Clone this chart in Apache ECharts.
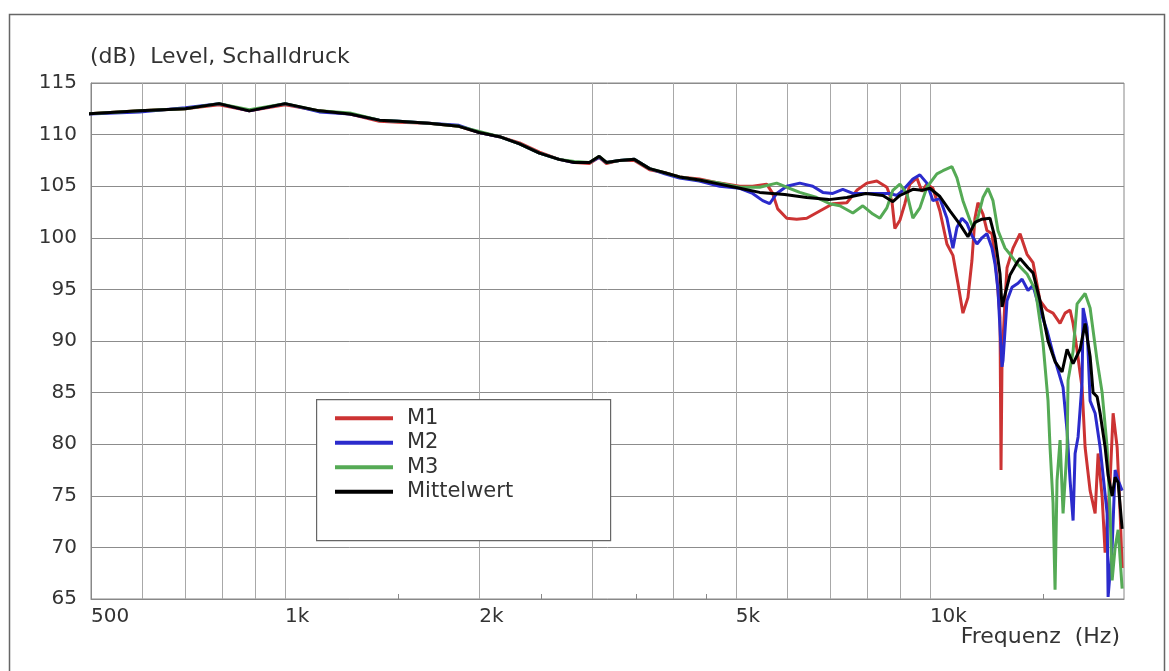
<!DOCTYPE html>
<html><head><meta charset="utf-8">
<script src="https://cdn.jsdelivr.net/npm/echarts@6/dist/echarts.min.js"></script>
<style>html,body{margin:0;padding:0;background:#fff}#c{width:1169px;height:671px}</style>
</head><body><div id="c"></div>
<script>
// ---- tick labels / grid positions (Hz) ----
const labelFreqs = [500, 1000, 2000, 5000, 10000];
const labelNames = ['500', '1k', '2k', '5k', '10k'];
const gridFreqs = [600, 700, 800, 900, 1000, 2000, 3000, 4000, 5000, 6000, 7000, 8000, 9000, 10000];
const minorFreqs = [1500, 2500, 3500, 4500, 15000];
const seriesNames = ['M1', 'M2', 'M3', 'Mittelwert'];

// ---- low-frequency part (shared frequency points) ----
const lowFreq = [493,595,700,790,880,1000,1130,1260,1400,1500,1670,1860,2000,2150,2310,2480,2660,2810,2965,3070,3150,3300,3480,3675,3880,4090,4390,4720];
const m1Low = [112.0,112.3,112.5,112.9,112.3,112.9,112.3,112.0,111.3,111.2,111.1,110.8,110.2,109.8,109.2,108.3,107.6,107.3,107.2,107.8,107.2,107.5,107.5,106.6,106.3,105.9,105.7,105.3];
const m2Low = [112.0,112.2,112.6,113.0,112.3,113.0,112.2,112.0,111.4,111.3,111.1,110.9,110.2,109.8,109.1,108.2,107.6,107.3,107.3,107.8,107.3,107.5,107.6,106.7,106.2,105.8,105.5,105.0];
const m3Low = [112.0,112.3,112.5,113.0,112.4,113.0,112.3,112.1,111.4,111.3,111.1,110.8,110.3,109.8,109.1,108.2,107.6,107.4,107.3,107.9,107.3,107.5,107.6,106.7,106.3,105.9,105.6,105.3];
const meanLow = [112.0,112.3,112.5,113.0,112.3,113.0,112.3,112.0,111.4,111.3,111.1,110.8,110.2,109.8,109.1,108.2,107.6,107.3,107.3,107.9,107.3,107.5,107.6,106.7,106.3,105.9,105.6,105.2];

// ---- high-frequency part ----
const m1HfFreq = [5070,5310,5583,5704,5807,5997,6215,6442,6749,7070,7433,7703,7983,8274,8576,8730,8824,8984,9145,9310,9545,9718,9893,10108,10364,10627,10857,11053,11252,11455,11620,11745,11872,12087,12260,12482,12708,12845,12891,12937,13077,13171,13456,13798,14145,14452,14818,15194,15523,15917,16204,16497,16675,16915,17097,17220,17406,17720,18040,18234,18497,18696,19033,19238,19516,19727,19868];
const m1HfLevel = [105.0,105.0,105.2,104.3,102.8,101.9,101.8,101.9,102.6,103.3,103.4,104.6,105.3,105.5,104.9,103.6,100.9,101.7,103.3,105.2,105.8,104.5,105.2,104.8,102.6,99.4,98.3,95.6,92.7,94.2,97.8,101.9,103.4,102.3,100.7,100.4,96.1,92.3,77.5,88.0,94.0,97.1,99.0,100.4,98.4,97.6,93.9,93.0,92.7,91.7,92.7,93.0,91.7,89.1,86.9,85.5,79.7,75.5,73.3,79.1,74.9,69.5,76.5,83.0,79.7,73.3,68.0];

const m2HfFreq = [5070,5310,5504,5643,5786,5997,6283,6582,6822,7070,7327,7594,7983,8364,8668,8887,9080,9410,9649,9893,10108,10364,10627,10857,11013,11212,11414,11620,11830,12043,12260,12482,12617,12753,12937,12983,13171,13408,13699,13897,14196,14452,14713,15194,15523,15917,16089,16321,16497,16675,16795,16975,17220,17282,17531,17720,18040,18365,18830,18897,19170,19376,19586,19868];
const m2HfLevel = [104.8,104.3,103.6,103.3,104.3,105.0,105.3,105.0,104.4,104.3,104.7,104.3,104.3,104.3,104.3,104.1,104.6,105.7,106.1,105.3,103.6,103.8,101.9,99.0,101.0,101.9,101.4,100.2,99.4,100.0,100.4,99.0,97.5,94.9,87.5,88.1,93.9,95.2,95.6,96.0,94.9,95.4,93.6,91.0,88.8,86.5,85.5,81.3,76.5,72.6,79.1,80.7,86.0,93.2,91.3,84.2,83.0,79.7,73.3,65.2,70.0,77.5,76.5,75.5];

const m3HfFreq = [5070,5445,5786,5997,6283,6677,6995,7249,7594,7870,8157,8364,8576,8761,8984,9211,9410,9649,9893,10253,10476,10818,11013,11252,11537,11662,11872,12087,12304,12527,12753,13077,13312,13650,14145,14556,14660,14978,15248,15358,15523,15635,15747,15917,16089,16321,16379,16675,16915,17406,17720,18169,18497,18830,19033,19170,19376,19586,19868];
const m3HfLevel = [104.9,104.9,105.3,104.9,104.4,103.9,103.3,103.1,102.4,103.1,102.3,101.9,102.9,104.6,105.2,104.3,101.9,102.9,104.9,106.2,106.5,106.9,105.8,103.6,101.7,101.0,102.0,103.9,104.8,103.6,100.7,99.0,98.4,97.5,96.5,95.0,93.9,89.8,84.2,79.7,74.3,65.9,76.5,80.4,73.3,79.7,86.2,89.0,93.6,94.6,93.2,88.1,85.0,79.7,73.3,66.8,70.0,71.7,66.0];

const meanHfFreq = [5070,5445,5955,6442,6970,7433,7955,8454,8761,8984,9410,9718,10000,10364,10741,11132,11455,11745,12043,12393,12617,12845,12937,13077,13312,13650,13798,14196,14452,14818,15248,15635,16031,16321,16675,17097,17406,17720,17911,18169,18365,18696,18897,19170,19376,19586,19868];
const meanHfLevel = [104.8,104.4,104.2,103.9,103.7,103.9,104.3,104.1,103.5,104.1,104.7,104.6,104.8,104.0,102.6,101.3,100.1,101.5,101.8,101.9,100.0,96.5,93.3,94.5,96.4,97.6,98.0,97.1,96.6,93.9,90.0,88.0,87.0,89.2,87.8,89.2,91.7,88.5,85.0,84.6,83.0,79.7,77.0,75.0,76.8,76.3,71.8];

const FONT = 'DejaVu Sans';
const TXT = '#333';
const colors = ['#cc3333', '#2b2bcc', '#55aa55', '#000000'];

function pairs(f, v) { return f.map((x, i) => [x, v[i]]); }
const allData = [
  pairs(lowFreq, m1Low).concat(pairs(m1HfFreq, m1HfLevel)),
  pairs(lowFreq, m2Low).concat(pairs(m2HfFreq, m2HfLevel)),
  pairs(lowFreq, m3Low).concat(pairs(m3HfFreq, m3HfLevel)),
  pairs(lowFreq, meanLow).concat(pairs(meanHfFreq, meanHfLevel))
];

const chart = echarts.init(document.getElementById('c'), null, { renderer: 'canvas' });
chart.setOption({
  animation: false,
  backgroundColor: '#fff',
  title: [
    { text: '(dB)  Level, Schalldruck', left: 85, top: 41,
      textStyle: { fontFamily: FONT, fontSize: 22, fontWeight: 'normal', color: TXT } },
    { text: 'Frequenz  (Hz)', right: 44, top: 621,
      textStyle: { fontFamily: FONT, fontSize: 22, fontWeight: 'normal', color: TXT } }
  ],
  grid: { left: 91, right: 45, top: 83, bottom: 72, show: true, borderColor: '#888', borderWidth: 1, backgroundColor: 'transparent' },
  xAxis: [
    { type: 'log', logBase: 10, min: 500, max: 20000,
      axisLine: { show: true, lineStyle: { color: '#888', width: 1 } },
      axisTick: { show: false, customValues: gridFreqs },
      splitLine: { show: true, lineStyle: { color: '#a8a8a8', width: 1 } },
      axisLabel: { customValues: labelFreqs, align: 'left', margin: 8,
        formatter: v => labelNames[labelFreqs.indexOf(Math.round(v))] || '',
        fontFamily: FONT, fontSize: 20, color: TXT } },
    { type: 'log', logBase: 10, min: 500, max: 20000, position: 'bottom',
      axisLine: { show: false },
      axisTick: { show: true, inside: true, length: 5, customValues: minorFreqs, lineStyle: { color: '#888' } },
      splitLine: { show: false },
      axisLabel: { show: false } }
  ],
  yAxis: { type: 'value', min: 65, max: 115, interval: 5,
    axisLine: { show: true, lineStyle: { color: '#888' } },
    axisTick: { show: false },
    splitLine: { show: true, lineStyle: { color: '#8c8c8c', width: 1 } },
    axisLabel: { margin: 14, fontFamily: FONT, fontSize: 20, color: TXT } },
  legend: {
    orient: 'vertical', left: 330, top: 401, z: 10,
    itemWidth: 58, itemHeight: 4, itemGap: 0, icon: 'rect',
    data: seriesNames,
    textStyle: { fontFamily: FONT, fontSize: 21, color: TXT, lineHeight: 24.5, padding: [0, 0, 0, 9] }
  },
  graphic: [
    { type: 'rect', left: 7, top: 12, z: -1, silent: true,
      shape: { width: 1155, height: 680 },
      style: { fill: 'none', stroke: '#666', lineWidth: 1.5 } },
    { type: 'rect', left: 316, top: 399, z: 5, silent: true,
      shape: { width: 294, height: 141 },
      style: { fill: '#fff', stroke: '#666', lineWidth: 1.2 } }
  ],
  series: allData.map((d, i) => ({
    name: seriesNames[i], type: 'line', xAxisIndex: 0, data: d,
    showSymbol: false, symbol: 'none', color: colors[i],
    lineStyle: { width: 3, color: colors[i] }, z: 2 + i
  }))
});
</script></body></html>
